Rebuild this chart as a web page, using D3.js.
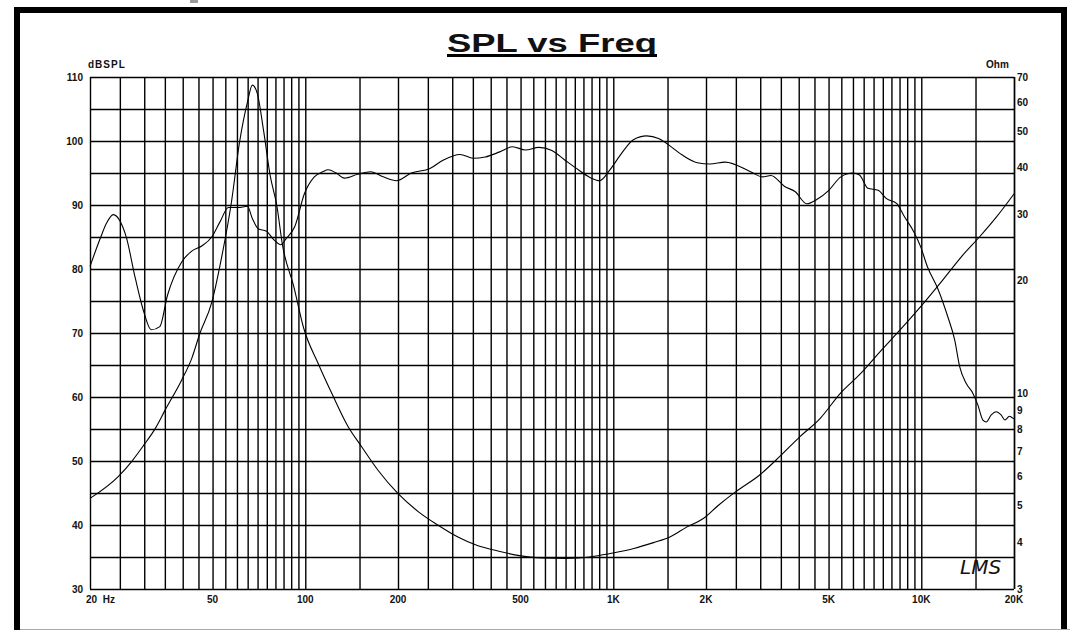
<!DOCTYPE html>
<html>
<head>
<meta charset="utf-8">
<script src="https://cdn.jsdelivr.net/npm/d3@7"></script>
<style>
body { margin: 0; background: #fff; }
text { font-family: Arial, "Liberation Sans", sans-serif; font-weight: bold; fill: #111; }
</style>
</head>
<body>
<script>
// SPL curve (Hz, dB SPL)
var splFreq = [20, 21.6, 22.6, 23.8, 25.1, 26.3, 27.9, 29.9, 31.6, 33.7, 35.7, 39.7, 42.8, 46.1, 49.7,
    52.9, 56.3, 60.6, 64.9, 67.3, 70.3, 74.8, 79.3, 83.2, 86.8, 92.4, 99.4, 107, 114, 118.6, 126, 134,
    148, 163, 179, 198, 221, 254, 280, 318, 351, 384, 428, 471, 519, 573, 632, 697, 770, 840, 904, 975,
    1065, 1162, 1284, 1403, 1513, 1675, 1875, 2060, 2310, 2790, 3050, 3250, 3600, 3890, 4250, 4590,
    5010, 5480, 5990, 6300, 6710, 7240, 7710, 8330, 8760, 9460, 9950, 10460, 11300, 12200, 12840,
    13330, 14000, 14700, 15250, 15850, 16250, 16870, 17500, 18160, 18700, 19320, 19820, 20000];
var splDb = [80.4, 84.8, 87.1, 88.5, 87.4, 84.8, 79.1, 73.3, 70.5, 71.0, 75.9, 81.1, 82.8, 83.6, 85.0,
    87.4, 89.6, 89.6, 89.8, 87.9, 86.3, 85.9, 84.5, 83.8, 84.8, 86.6, 91.8, 94.4, 95.2, 95.5, 95.0, 94.2,
    94.8, 95.2, 94.4, 93.8, 95.0, 95.7, 97.0, 97.9, 97.3, 97.5, 98.3, 99.1, 98.6, 99.0, 98.5, 97.0, 95.5,
    94.3, 93.8, 95.5, 98.1, 100.2, 100.8, 100.4, 99.4, 97.8, 96.6, 96.4, 96.7, 95.2, 94.4, 94.6, 92.9,
    92.1, 90.2, 90.9, 92.3, 94.4, 95.0, 94.7, 92.6, 92.3, 91.0, 90.2, 88.4, 85.8, 83.5, 80.4, 77.0,
    72.5, 68.9, 64.7, 62.1, 60.6, 58.8, 56.4, 56.1, 57.2, 57.7, 57.2, 56.4, 57.0, 56.7, 56.6];

// impedance curve (Hz, Ohm)
var impFreq = [20, 24.7, 27.3, 29.9, 32.6, 35.1, 39.7, 42.8, 45.4, 49.7, 53.4, 57.6, 61.2, 64.9, 67.3,
    69.8, 73.3, 76.9, 80.8, 84.4, 91.6, 98.9, 110.2, 121.9, 137.8, 152.4, 172.5, 199.8, 232.6, 270, 313,
    362, 422, 490, 585, 700, 771, 866, 1005, 1166, 1351, 1527, 1730, 1960, 2200, 2500, 2980, 3460, 4030,
    4690, 5460, 6360, 7400, 8620, 10050, 11700, 13640, 15470, 17550, 20000];
var impOhm = [5.24, 5.99, 6.57, 7.27, 8.06, 9.03, 10.86, 12.4, 14.4, 17.5, 22.9, 32.5, 47, 60, 66.6,
    63.4, 50, 38.2, 31.8, 24.8, 19.4, 14.9, 12.0, 10.0, 8.14, 7.2, 6.22, 5.4, 4.83, 4.44, 4.13,
    3.92, 3.79, 3.69, 3.63, 3.62, 3.63, 3.67, 3.75, 3.85, 3.99, 4.13, 4.39, 4.63, 5.03, 5.46, 6.04, 6.76, 7.65,
    8.56, 10.0, 11.3, 13.0, 14.9, 17.2, 20.0, 23.4, 26.2, 29.6, 34.1];

var freqLabels = [[20, "20  Hz"], [50, "50"], [100, "100"], [200, "200"], [500, "500"],
    [1000, "1K"], [2000, "2K"], [5000, "5K"], [10000, "10K"], [20000, "20K"]];
var dbTicks = [30, 40, 50, 60, 70, 80, 90, 100, 110];
var ohmTicks = [3, 4, 5, 6, 7, 8, 9, 10, 20, 30, 40, 50, 60, 70];
var gridMult = [1, 1.5, 2, 2.5, 3, 3.5, 4, 4.5, 5, 5.5, 6, 6.5, 7, 7.5, 8, 8.5, 9, 9.5];
var decades = [10, 100, 1000, 10000];

var W = 1070, H = 630;
var plotL = 90, plotR = 1014, plotT = 77, plotB = 589;

var svg = d3.select("body").append("svg")
    .attr("width", W)
    .attr("height", H)

// frame
svg.append("rect").attr("x", 0).attr("y", 0).attr("width", W).attr("height", H).attr("fill", "#fff")
svg.append("rect").attr("x", 17).attr("y", 10).attr("width", 1047).attr("height", 640)
    .attr("fill", "none").attr("stroke", "#000").attr("stroke-width", 6)
svg.append("line").attr("x1", 20).attr("x2", W).attr("y1", 629.5).attr("y2", 629.5)
    .attr("stroke", "#aaa").attr("stroke-width", 1)
svg.append("rect").attr("x", 190).attr("y", 0).attr("width", 8).attr("height", 3).attr("fill", "#999")

var x = d3.scaleLog().domain([20, 20000]).range([plotL, plotR]);
var yDb = d3.scaleLinear().domain([30, 110]).range([plotB, plotT]);
var yOhm = d3.scaleLog().domain([3, 70]).range([plotB, plotT]);

// grid
var vLines = [];
decades.forEach(function(d) {
    gridMult.forEach(function(m) {
        var f = d * m;
        if (f >= 20 && f <= 20000) vLines.push(f);
    });
});
vLines.push(20000);

svg.append("g")
    .attr("transform", "translate(0," + plotB + ")")
    .call(d3.axisBottom(x).tickValues(vLines).tickSize(-(plotB - plotT)).tickFormat(""))
    .call(function(g) {
        g.select(".domain").remove();
        g.selectAll("line").attr("stroke", "#000").attr("stroke-width", 1.4);
    })

svg.append("g")
    .attr("transform", "translate(" + plotL + ",0)")
    .call(d3.axisLeft(yDb).tickValues(d3.range(30, 111, 5)).tickSize(-(plotR - plotL)).tickFormat(""))
    .call(function(g) {
        g.select(".domain").remove();
        g.selectAll("line").attr("stroke", "#000").attr("stroke-width", 1.4);
    })

// curves
var splLine = d3.line()
    .x(function(d) { return x(d[0]); })
    .y(function(d) { return yDb(d[1]); })
    .curve(d3.curveMonotoneX)
var impLine = d3.line()
    .x(function(d) { return x(d[0]); })
    .y(function(d) { return yOhm(d[1]); })
    .curve(d3.curveMonotoneX)

svg.append("path")
    .datum(d3.zip(splFreq, splDb))
    .attr("d", splLine)
    .attr("fill", "none").attr("stroke", "#000").attr("stroke-width", 1.1)
svg.append("path")
    .datum(d3.zip(impFreq, impOhm))
    .attr("d", impLine)
    .attr("fill", "none").attr("stroke", "#000").attr("stroke-width", 1.1)

// labels
svg.append("g").selectAll("text").data(dbTicks).enter().append("text")
    .attr("x", 83).attr("y", function(d) { return yDb(d) + 3.5; })
    .attr("text-anchor", "end").attr("font-size", 10)
    .text(function(d) { return d; })

svg.append("g").selectAll("text").data(ohmTicks).enter().append("text")
    .attr("x", 1017).attr("y", function(d) { return yOhm(d) + 3.5; })
    .attr("font-size", 10)
    .text(function(d) { return d; })

svg.append("g").selectAll("text").data(freqLabels).enter().append("text")
    .attr("x", function(d) { return d[0] == 20 ? 86 : x(d[0]); })
    .attr("y", 603)
    .attr("text-anchor", function(d) { return d[0] == 20 ? "start" : "middle"; })
    .attr("font-size", 10)
    .style("white-space", "pre")
    .text(function(d) { return d[1]; })

svg.append("text").attr("x", 88).attr("y", 68).attr("font-size", 10)
    .attr("letter-spacing", 1).text("dBSPL")
svg.append("text").attr("x", 986).attr("y", 67.5).attr("font-size", 10).text("Ohm")

// title
svg.append("text").attr("x", 447).attr("y", 52).attr("font-size", 26)
    .attr("textLength", 210).attr("lengthAdjust", "spacingAndGlyphs")
    .text("SPL vs Freq")
svg.append("rect").attr("x", 447).attr("y", 54).attr("width", 210).attr("height", 3).attr("fill", "#000")

// LMS mark
svg.append("text").attr("x", 960).attr("y", 574).attr("font-size", 20)
    .attr("font-style", "italic")
    .style("font-family", "'DejaVu Sans', sans-serif").style("font-weight", "normal")
    .text("LMS")
</script>
</body>
</html>
